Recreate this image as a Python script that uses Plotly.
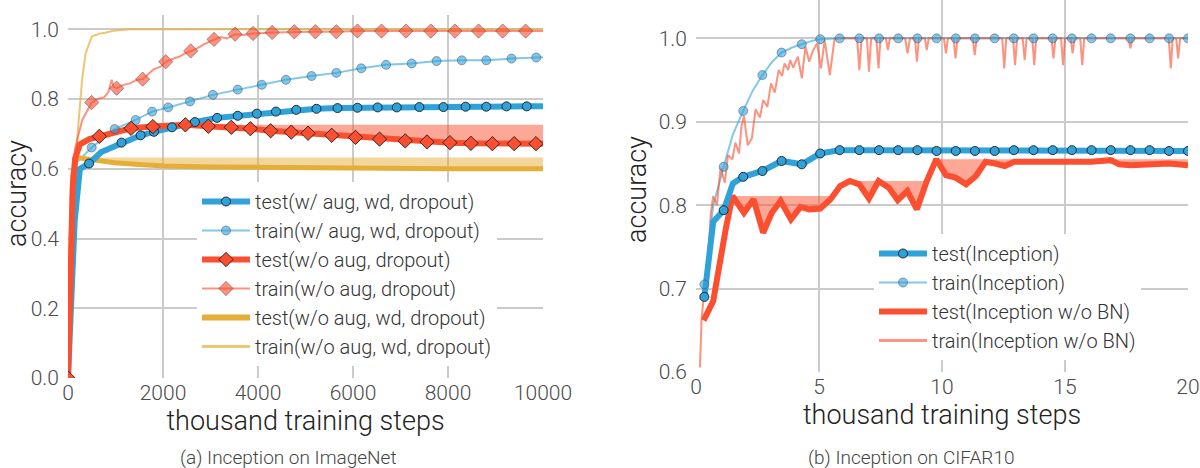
import numpy as np
import plotly.graph_objects as go

# ---------------- (a) Inception on ImageNet ----------------
# test(w/ aug, wd, dropout)
a_test_aug_x = [0, 60, 140, 250, 443, 700, 1127, 1529, 1811, 2189, 2672, 3139, 3573, 3976,
                4378, 4805, 5231, 5674, 6093, 6519, 6922, 7397, 7904, 8370, 8805, 9231, 9658, 10000]
a_test_aug_y = [0.0, 0.2, 0.45, 0.6, 0.615, 0.648, 0.675, 0.696, 0.706, 0.719, 0.734, 0.746, 0.752,
                0.758, 0.764, 0.769, 0.772, 0.774, 0.775, 0.776, 0.776, 0.777, 0.777, 0.778, 0.778,
                0.779, 0.779, 0.779]
a_test_aug_marks = [4] + list(range(6, 27))

# train(w/ aug, wd, dropout)
a_train_aug_x = [0, 40, 100, 200, 499, 982, 1425, 1771, 2109, 2568, 3050, 3573, 4080, 4588, 5127,
                 5650, 6173, 6696, 7236, 7759, 8290, 8805, 9336, 9859, 10000]
a_train_aug_y = [0.0, 0.3, 0.55, 0.62, 0.661, 0.714, 0.740, 0.764, 0.776, 0.793, 0.812, 0.827, 0.841,
                 0.855, 0.866, 0.875, 0.888, 0.898, 0.902, 0.909, 0.911, 0.911, 0.916, 0.919, 0.920]
a_train_aug_marks = list(range(4, 24))

# test(w/o aug, dropout)
a_test_noaug_x = [0, 50, 100, 150, 250, 450, 660, 1000, 1328, 1787, 2471, 2954, 3437, 3839, 4266,
                  4700, 5054, 5553, 6052, 6559, 7099, 7558, 8040, 8483, 8934, 9393, 9852, 10000]
a_test_noaug_y = [0.0, 0.3, 0.55, 0.63, 0.67, 0.685, 0.693, 0.706, 0.716, 0.721, 0.726, 0.722, 0.719,
                  0.715, 0.709, 0.705, 0.702, 0.696, 0.690, 0.685, 0.680, 0.677, 0.675, 0.673, 0.672,
                  0.672, 0.672, 0.672]
a_test_noaug_marks = [0, 6] + list(range(8, 27))

# train(w/o aug, dropout)
a_train_noaug_x = [0, 60, 150, 300, 499, 620, 760, 850, 920, 960, 1025, 1150, 1300, 1450, 1572, 1700,
                   1800, 1950, 2057, 2200, 2350, 2450, 2583, 2700, 2850, 2950, 3074, 3200, 3350, 3517,
                   3700, 3896, 4298, 4765, 5207, 5650, 6093, 6600, 7115, 7638, 8145, 8644, 9151, 9634,
                   10000]
a_train_noaug_y = [0.0, 0.52, 0.66, 0.74, 0.790, 0.800, 0.805, 0.82, 0.855, 0.835, 0.831, 0.840, 0.845,
                   0.855, 0.857, 0.872, 0.885, 0.893, 0.907, 0.915, 0.922, 0.930, 0.938, 0.944, 0.956,
                   0.962, 0.971, 0.978, 0.974, 0.986, 0.984, 0.988, 0.991, 0.993, 0.993, 0.993, 0.995,
                   0.995, 0.995, 0.995, 0.995, 0.995, 0.995, 0.995, 0.995]
a_train_noaug_marks = [4, 10, 14, 18, 22, 26, 29] + list(range(31, 44))

# test(w/o aug, wd, dropout)
a_test_nowd_x = [0, 60, 100, 177, 400, 700, 982, 1500, 2028, 3000, 4200, 6000, 8000, 10000]
a_test_nowd_y = [0.0, 0.4, 0.58, 0.632, 0.628, 0.622, 0.617, 0.612, 0.608, 0.605, 0.603, 0.601, 0.600,
                 0.600]

# train(w/o aug, wd, dropout)
a_train_nowd_x = [0, 50, 100, 140, 190, 230, 300, 370, 440, 499, 674, 783, 954, 1300, 10000]
a_train_nowd_y = [0.0, 0.3, 0.5, 0.6, 0.68, 0.74, 0.86, 0.93, 0.96, 0.979, 0.988, 0.99, 0.996, 1.0, 1.0]

a_ticks = [0, 2000, 4000, 6000, 8000, 10000]
a_labels = ["test(w/ aug, wd, dropout)", "train(w/ aug, wd, dropout)", "test(w/o aug, dropout)",
            "train(w/o aug, dropout)", "test(w/o aug, wd, dropout)", "train(w/o aug, wd, dropout)"]

# ---------------- (b) Inception on CIFAR10 ----------------
b_test_x = [0.34, 0.7, 1.125, 1.5, 1.92, 2.70, 3.48, 4.30, 5.05, 5.84, 6.64, 7.44, 8.22, 9.0, 9.78,
            10.56, 11.34, 12.14, 12.92, 13.72, 14.5, 15.28, 16.08, 16.86, 17.66, 18.44, 19.23, 20.0]
b_test_y = [0.690, 0.78, 0.794, 0.826, 0.834, 0.841, 0.853, 0.849, 0.862, 0.866, 0.866, 0.866, 0.866,
            0.866, 0.865, 0.865, 0.865, 0.865, 0.866, 0.866, 0.866, 0.866, 0.866, 0.866, 0.866, 0.866,
            0.865, 0.865]
b_test_marks = [0, 2] + list(range(4, 28))

b_train_x = [0.34, 0.7, 1.125, 1.5, 1.92, 2.3, 2.70, 3.1, 3.48, 3.9, 4.30, 4.7, 5.05, 5.84, 6.64, 7.44,
             8.22, 9.0, 9.78, 10.56, 11.34, 12.14, 12.92, 13.72, 14.5, 15.28, 16.08, 16.86, 17.66,
             18.44, 19.23, 20.0]
b_train_y = [0.705, 0.80, 0.846, 0.885, 0.913, 0.937, 0.956, 0.972, 0.983, 0.989, 0.993, 0.997, 0.999,
             1.0, 1.0, 1.0, 1.0, 1.0, 1.0, 1.0, 1.0, 1.0, 1.0, 1.0, 1.0, 1.0, 1.0, 1.0, 1.0, 1.0, 1.0,
             1.0]
b_train_marks = [0, 2, 4, 6, 8, 10, 12] + list(range(13, 32))

b_test_nobn_x = [0.31, 0.70, 1.2, 1.48, 1.95, 2.34, 2.73, 3.08, 3.44, 3.86, 4.25, 4.61, 5.05, 5.47, 5.86,
                 6.25, 6.64, 7.03, 7.42, 7.84, 8.2, 8.59, 8.98, 9.38, 9.77, 10.16, 10.55, 10.98, 11.38,
                 11.77, 12.16, 12.55, 12.94, 13.72, 14.5, 15.28, 15.7, 16.06, 16.86, 17.2, 17.66, 18.44,
                 19.23, 20.0]
b_test_nobn_y = [0.662, 0.685, 0.77, 0.811, 0.791, 0.807, 0.767, 0.791, 0.805, 0.783, 0.798, 0.795,
                 0.796, 0.807, 0.823, 0.829, 0.825, 0.808, 0.829, 0.821, 0.806, 0.817, 0.795, 0.829,
                 0.855, 0.836, 0.833, 0.825, 0.835, 0.852, 0.850, 0.847, 0.852, 0.852, 0.852, 0.852,
                 0.851, 0.852, 0.854, 0.849, 0.848, 0.849, 0.850, 0.848]

b_train_nobn_x = [0.16, 0.23, 0.35, 0.5, 0.6, 0.7, 0.85, 1.0, 1.17, 1.3, 1.48, 1.6, 1.75, 1.85, 1.95,
                  2.1, 2.27, 2.42, 2.6, 2.73, 2.9, 3.05, 3.2, 3.36, 3.5, 3.6, 3.75, 3.83, 3.95, 4.14,
                  4.3, 4.45, 4.6, 4.75, 4.92, 5.08, 5.23, 5.44, 5.63, 5.8,
                  6.55, 6.64, 6.73, 6.95, 7.03, 7.12, 7.33, 7.42, 7.5, 7.72, 7.8, 7.88, 8.5, 8.6, 8.7,
                  8.9, 8.98, 9.06, 9.3, 9.38, 9.46, 10.08, 10.16, 10.24, 10.47, 10.55, 10.63, 11.25,
                  11.33, 11.41, 12.45, 12.53, 12.61, 12.89, 12.97, 13.05, 13.28, 13.36, 13.44, 13.67,
                  13.75, 13.83, 14.45, 14.53, 14.61, 14.84, 14.92, 15.0, 15.23, 15.31, 15.39, 15.62,
                  15.7, 15.78, 17.58, 17.66, 17.74, 19.22, 19.3, 19.38, 19.52, 19.6, 19.68, 20.0]
b_train_nobn_y = [0.6055, 0.665, 0.70, 0.74, 0.79, 0.811, 0.80, 0.845, 0.827, 0.86, 0.855, 0.875, 0.862,
                  0.895, 0.907, 0.872, 0.88, 0.915, 0.905, 0.926, 0.918, 0.946, 0.935, 0.962, 0.955,
                  0.970, 0.962, 0.974, 0.965, 0.978, 0.952, 0.990, 0.972, 0.985, 0.994, 0.964, 0.998,
                  0.956, 0.999, 1.0,
                  1.0, 0.962, 1.0, 1.0, 0.960, 1.0, 1.0, 0.964, 1.0, 1.0, 0.986, 1.0, 1.0, 0.982, 1.0,
                  1.0, 0.972, 1.0, 1.0, 0.986, 1.0, 1.0, 0.982, 1.0, 1.0, 0.976, 1.0, 1.0, 0.980, 1.0,
                  1.0, 0.964, 1.0, 1.0, 0.968, 1.0, 1.0, 0.974, 1.0, 1.0, 0.968, 1.0, 1.0, 0.976, 1.0,
                  1.0, 0.968, 1.0, 1.0, 0.982, 1.0, 1.0, 0.968, 1.0, 1.0, 0.988, 1.0, 1.0, 0.964, 1.0,
                  1.0, 0.976, 1.0, 1.0]

b_labels = ["test(Inception)", "train(Inception)", "test(Inception w/o BN)", "train(Inception w/o BN)"]

BLUE, RED, YELLOW = "#30a2da", "#fc4f30", "#e5ae38"
BLUE_L, RED_L, YELLOW_L = "rgba(48,162,218,0.6)", "rgba(252,79,48,0.62)", "rgba(229,174,56,0.7)"
EDGE_D, EDGE_L = "rgba(30,30,30,0.9)", "rgba(60,60,80,0.45)"
FONT = "Roboto"

W, H = 1200, 468


def px(x):
    return x / W


def py(y):
    return 1 - y / H


fig = go.Figure()


def line(x, y, color, width, ax):
    fig.add_trace(go.Scatter(x=x, y=y, mode="lines", line=dict(color=color, width=width),
                             xaxis="x" + ax, yaxis="y" + ax, showlegend=False, hoverinfo="skip"))


def marks(x, y, idx, symbol, size, fill, edge, ax):
    fig.add_trace(go.Scatter(x=[x[i] for i in idx], y=[y[i] for i in idx], mode="markers",
                             marker=dict(symbol=symbol, size=size, color=fill,
                                         line=dict(color=edge, width=1)),
                             xaxis="x" + ax, yaxis="y" + ax, showlegend=False, hoverinfo="skip"))


def drop_band(x, y, color, ax):
    # shade between the curve and its running best
    best = np.maximum.accumulate(np.array(y))
    fig.add_trace(go.Scatter(x=x, y=best, mode="lines", line=dict(width=0), xaxis="x" + ax,
                             yaxis="y" + ax, showlegend=False, hoverinfo="skip"))
    fig.add_trace(go.Scatter(x=x, y=y, mode="lines", line=dict(width=0), fill="tonexty",
                             fillcolor=color, xaxis="x" + ax, yaxis="y" + ax, showlegend=False,
                             hoverinfo="skip"))


def key(name, color, width, legend, symbol=None, size=9, fill=None, edge=None):
    kw = dict(mode="lines")
    if symbol:
        kw = dict(mode="lines+markers",
                  marker=dict(symbol=symbol, size=size, color=fill, line=dict(color=edge, width=1)))
    fig.add_trace(go.Scatter(x=[None], y=[None], name=name, line=dict(color=color, width=width),
                             legend=legend, xaxis="x", yaxis="y", **kw))


ax = ""  # left panel
drop_band(a_test_noaug_x, a_test_noaug_y, "rgba(252,79,48,0.5)", ax)
drop_band(a_test_nowd_x, a_test_nowd_y, "rgba(229,174,56,0.5)", ax)
line(a_train_nowd_x, a_train_nowd_y, YELLOW_L, 2, ax)
line(a_train_noaug_x, a_train_noaug_y, RED_L, 2, ax)
line(a_train_aug_x, a_train_aug_y, BLUE_L, 2, ax)
line(a_test_nowd_x, a_test_nowd_y, YELLOW, 5, ax)
line(a_test_aug_x, a_test_aug_y, BLUE, 6, ax)
line(a_test_noaug_x, a_test_noaug_y, RED, 6, ax)
marks(a_train_noaug_x, a_train_noaug_y, a_train_noaug_marks, "diamond", 11, RED_L, EDGE_L, ax)
marks(a_train_aug_x, a_train_aug_y, a_train_aug_marks, "circle", 9, BLUE_L, EDGE_L, ax)
marks(a_test_aug_x, a_test_aug_y, a_test_aug_marks, "circle", 9, BLUE, EDGE_D, ax)
marks(a_test_noaug_x, a_test_noaug_y, a_test_noaug_marks, "diamond", 11, RED, EDGE_D, ax)

ax = "2"  # right panel
drop_band(b_test_nobn_x, b_test_nobn_y, "rgba(252,79,48,0.5)", ax)
line(b_train_x, b_train_y, BLUE_L, 2, ax)
line(b_train_nobn_x, b_train_nobn_y, RED_L, 2, ax)
line(b_test_nobn_x, b_test_nobn_y, RED, 6, ax)
line(b_test_x, b_test_y, BLUE, 6, ax)
marks(b_train_x, b_train_y, b_train_marks, "circle", 9, BLUE_L, EDGE_L, ax)
marks(b_test_x, b_test_y, b_test_marks, "circle", 9, BLUE, EDGE_D, ax)

key(a_labels[0], BLUE, 6, "legend", "circle", 9, BLUE, EDGE_D)
key(a_labels[1], BLUE_L, 2, "legend", "circle", 9, BLUE_L, EDGE_L)
key(a_labels[2], RED, 6, "legend", "diamond", 11, RED, EDGE_D)
key(a_labels[3], RED_L, 2, "legend", "diamond", 11, RED_L, EDGE_L)
key(a_labels[4], YELLOW, 6, "legend")
key(a_labels[5], YELLOW_L, 3, "legend")
key(b_labels[0], BLUE, 6, "legend2", "circle", 9, BLUE, EDGE_D)
key(b_labels[1], BLUE_L, 2, "legend2", "circle", 9, BLUE_L, EDGE_L)
key(b_labels[2], RED, 6, "legend2")
key(b_labels[3], RED_L, 3, "legend2")

grid = dict(showgrid=True, gridcolor="#cbcbcb", gridwidth=1.5, zeroline=False, showline=False,
            ticks="", automargin=False, tickfont=dict(size=21, color="#4a4a4a"))
title_font = dict(size=27, color="#222")
legend_style = dict(bgcolor="white", borderwidth=0, font=dict(size=20, color="#333"),
                    xanchor="left", yanchor="top", tracegroupgap=0, traceorder="normal",
                    itemwidth=48)
cap_font = dict(size=19, color="#444")


def note(text, x, y, font, angle=0):
    return dict(text=text, x=px(x), y=py(y), xref="paper", yref="paper", xanchor="center",
                yanchor="middle", textangle=angle, showarrow=False, font=font, borderpad=0)


fig.update_layout(
    width=W, height=H, margin=dict(l=0, r=0, t=0, b=0),
    paper_bgcolor="white", plot_bgcolor="white",
    font=dict(family=FONT, weight=300),
    xaxis=dict(domain=[px(68), px(543)], range=[0, 10000], tickvals=a_ticks,
               ticktext=[str(t) for t in a_ticks], ticklabelstandoff=0,
               title=dict(text="thousand training steps", font=title_font, standoff=4), **grid),
    yaxis=dict(domain=[py(378), py(15)], range=[0, 1.041], dtick=0.2, tickformat=".1f",
               ticklabelstandoff=8, **grid),
    xaxis2=dict(domain=[px(696), px(1188)], range=[0, 20], dtick=5, anchor="y2",
                ticklabelstandoff=0,
                title=dict(text="thousand training steps", font=title_font, standoff=4), **grid),
    yaxis2=dict(domain=[py(372), 1], range=[0.6, 1.046], dtick=0.1, tickformat=".1f",
                anchor="x2", ticklabelstandoff=8, **grid),
    legend=dict(x=px(197), y=py(182), **legend_style),
    legend2=dict(x=px(874), y=py(234), **legend_style),
    annotations=[
        note("accuracy", 17, 194, title_font, -90),
        note("accuracy", 637, 190, title_font, -90),
        note("(a) Inception on ImageNet", 288, 457, cap_font),
        note("(b) Inception on CIFAR10", 911, 457, cap_font),
    ],
)

# drop the page's default body margin so the 1200x468 figure fills the window exactly
fig.write_html("out.html", config={"displayModeBar": False},
               post_script="document.body.style.margin='0';"
                           "document.body.style.overflow='hidden';")
